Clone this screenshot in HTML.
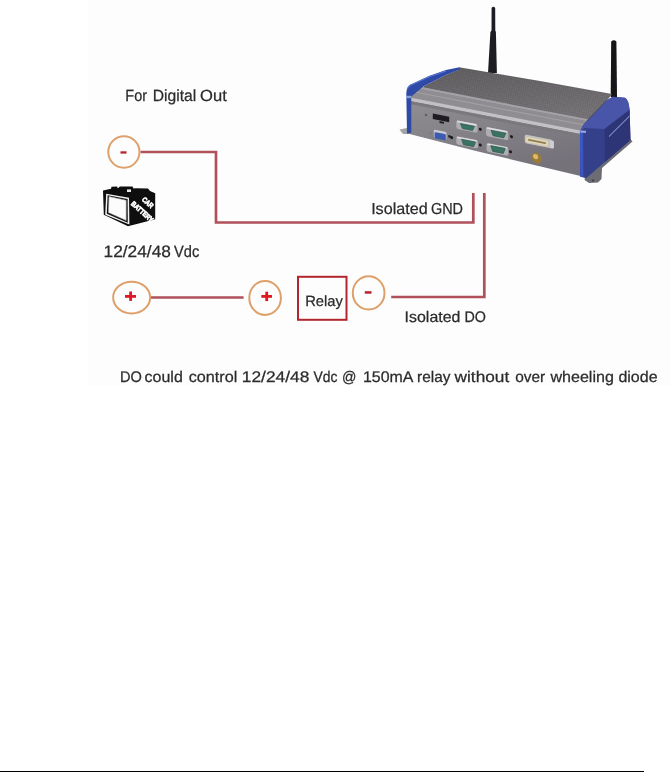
<!DOCTYPE html>
<html>
<head>
<meta charset="utf-8">
<style>
html,body{margin:0;padding:0;background:#fff;width:671px;height:772px;overflow:hidden;}
svg{position:absolute;left:0;top:0;display:block;will-change:transform;}
text{font-family:"Liberation Sans",sans-serif;fill:#2b2b2b;}
</style>
</head>
<body>
<svg width="671" height="772" viewBox="0 0 671 772">
<defs>
  <linearGradient id="gTop" x1="0" y1="0" x2="0.2" y2="1">
    <stop offset="0" stop-color="#5f5c5f"/>
    <stop offset="1" stop-color="#747174"/>
  </linearGradient>
  <linearGradient id="gFront" x1="0" y1="0" x2="0.5" y2="1">
    <stop offset="0" stop-color="#949297"/>
    <stop offset="0.5" stop-color="#858288"/>
    <stop offset="1" stop-color="#75727a"/>
  </linearGradient>
  <pattern id="grain" width="2.2" height="2.2" patternUnits="userSpaceOnUse" patternTransform="rotate(10)">
    <rect x="0" y="0" width="1.1" height="1.1" fill="#000" opacity="0.07"/>
    <rect x="1.1" y="1.1" width="1.1" height="1.1" fill="#fff" opacity="0.05"/>
  </pattern>
  <filter id="soft" x="-5%" y="-5%" width="110%" height="110%"><feGaussianBlur stdDeviation="0.45"/></filter>
</defs>
<rect x="88" y="0" width="583" height="386" fill="#fdfdfd"/>
<!-- DEVICE -->

<g id="device" filter="url(#soft)">
  <!-- antennas -->
  <path d="M491.6,8 Q493.4,5.5 495.2,8 L495.3,30.5 L495.9,32 L496.9,73 L488,73 L490.4,32 L491.5,30.5 Z" fill="#1f1f21"/>
  <path d="M611.2,41.5 Q613.8,38.8 616.4,41.5 L617,97 L610.7,97 Z" fill="#141416"/>
  <!-- flanges -->
  <polygon points="399.5,129.5 407,128 411,134 403,134" fill="#a3a3a6"/>
  <polygon points="585,177.5 630.5,139.2 632.5,141.5 602,168 601.5,179 598,182.5 589,183 584.5,180" fill="#6c6c74"/>
  <circle cx="593" cy="180.5" r="1.2" fill="#444"/>
  <!-- front face base -->
  <polygon points="410,84.31 592,119.61 580.5,176 476,151 407.5,133.5" fill="url(#gFront)"/>
  <!-- top face -->
  <polygon points="423.6,86.3 446,75 459,69.5 459,67.3 540,81 612,94 592,120.51 423.6,87.84" fill="url(#gTop)"/>
  <polygon points="423.6,86.3 446,75 459,69.5 459,67.3 540,81 612,94 592,120.51 423.6,87.84" fill="url(#grain)"/>
  <!-- bands -->
  <polygon points="410,84.81 592,120.11 592,122.31 410,87.01" fill="#a3a1a5"/>
  <polygon points="410,87.01 592,122.31 592,132.71 410,97.41" fill="#8f8d91"/>
  <polygon points="410,90.61 592,125.91 592,126.91 410,91.61" fill="#a4a2a6"/>
  <polygon points="410,97.41 592,132.71 592,136.31 410,101.01" fill="#c2c0c4"/>
  <polygon points="410,101.01 592,136.31 592,139.41 410,104.11" fill="#7a787c"/>
  <!-- left blue cap -->
  <path d="M406.3,93 Q406.6,87 410.2,84.7 L429.6,75.7 L446,70 L459.5,67.2 L459.5,69.6 L446,75 L423.6,86.2 L411.3,96.6 L411.3,132.8 L407,133.5 Z" fill="#2e4aa6"/>
  <path d="M407.2,89 Q408.5,86 411,85 L429.6,76.6 L446,71" fill="none" stroke="#5b7ad6" stroke-width="1.1"/>
  <rect x="406.3" y="95.8" width="5" height="2.4" fill="#9ab8dc" opacity="0.8"/>
  <!-- right blue cap -->
  <path d="M580,132.5 Q581.5,126 586.6,121.3 L606.3,100.7 L612.6,96.8 L625,97.8 Q628.7,100 629.6,109.7 L630.5,140 L586,178.3 L580,176.5 Z" fill="#343f8a"/>
  <path d="M580,132.5 Q581.5,126 586.6,121.3 L606.3,100.7 L612.6,96.8 L625,97.8 Q628.7,100 629.6,109.7 L604.5,129 L584,128 Z" fill="#4a55a8"/>
  <path d="M604.5,129 L629.6,109.7 L630.5,140 L605,162 Z" fill="#2e3677"/>
  <line x1="609" y1="136.5" x2="629.6" y2="116" stroke="#a5b5ee" stroke-width="1"/>
  <path d="M581.5,131 L581.8,176.5" stroke="#3d55c0" stroke-width="3.2"/>
  <path d="M580.5,131.5 L586,131.8" stroke="#b0c0ee" stroke-width="2.2" opacity="0.8"/>
  <path d="M586.6,121.3 L606.3,100.7" stroke="#4b4a55" stroke-width="1.2" opacity="0.6"/>
  <!-- ports, skewed with face -->
    <g transform="translate(411,0) skewY(11) translate(-411,0)">
    <circle cx="426" cy="112.09" r="1.1" fill="#555"/>
    <rect x="432.8" y="109.27" width="16.40" height="5.52" rx="0" fill="#1e1e20"/>
    <rect x="439.5" y="115.47" width="4.50" height="1.93" rx="0" fill="#1e1e20"/>
    <rect x="433.8" y="125.08" width="12.70" height="8.04" rx="1.2" fill="#c9c9d2"/>
    <rect x="434.6" y="127.42" width="11.20" height="6.33" rx="1" fill="#3a5ab0"/>
    <circle cx="430.5" cy="129.72" r="1.2" fill="#7a7a7a"/>
    <circle cx="449.5" cy="129.03" r="1.4" fill="#262626"/>
    <rect x="456.3" y="111.21" width="21.30" height="8.87" rx="2.2" fill="#aeadb1"/>
    <rect x="457.1" y="111.51" width="19.50" height="1.6" rx="0.8" fill="#dedde0"/>
    <path d="M460.4,114.02 L474.5,114.02 L472.5,118.58 L462.4,118.58 Z" fill="#3b7362" stroke="#2a5548" stroke-width="0.6" stroke-linejoin="round"/>
    <rect x="456.3" y="127.21" width="21.70" height="8.39" rx="2.2" fill="#aeadb1"/>
    <rect x="457.1" y="127.51" width="19.90" height="1.6" rx="0.8" fill="#dedde0"/>
    <path d="M461.5,129.40 L475.6,129.40 L473.6,134.47 L463.5,134.47 Z" fill="#3b7362" stroke="#2a5548" stroke-width="0.6" stroke-linejoin="round"/>
    <rect x="486" y="112.15" width="22.40" height="9.25" rx="2.2" fill="#aeadb1"/>
    <rect x="486.8" y="112.44" width="20.60" height="1.6" rx="0.8" fill="#dedde0"/>
    <path d="M491,114.78 L505.8,114.78 L503.8,119.81 L493,119.81 Z" fill="#3b7362" stroke="#2a5548" stroke-width="0.6" stroke-linejoin="round"/>
    <rect x="486.5" y="128.25" width="21.90" height="8.75" rx="2.2" fill="#aeadb1"/>
    <rect x="487.3" y="128.55" width="20.10" height="1.6" rx="0.8" fill="#dedde0"/>
    <path d="M490.7,130.04 L505.3,130.04 L503.3,135.51 L492.7,135.51 Z" fill="#3b7362" stroke="#2a5548" stroke-width="0.6" stroke-linejoin="round"/>
    <circle cx="480.3" cy="115.86" r="1.5" fill="#1c1c1c"/>
    <circle cx="480.3" cy="131.56" r="1.5" fill="#1c1c1c"/>
    <circle cx="511.5" cy="117.10" r="1.5" fill="#1c1c1c"/>
    <circle cx="510.5" cy="132.40" r="1.5" fill="#1c1c1c"/>
    <circle cx="451.6" cy="129.72" r="1.5" fill="#1c1c1c"/>
    <rect x="524.7" y="112.24" width="28.00" height="8.87" rx="2" fill="#c4c2bc"/>
    <rect x="525.9" y="114.41" width="22.00" height="5.23" rx="1.5" fill="#e2d6b2"/>
    <rect x="528" y="116.2" width="18.00" height="1.6" rx="0.8" fill="#8c7c56"/>
    <rect x="550.3" y="113.28" width="3.60" height="7.60" rx="1" fill="#d0d0d4"/>
    <circle cx="536.6" cy="133.73" r="5.2" fill="#9a7a38"/>
    <circle cx="535.6" cy="132.43" r="2.6" fill="#d8bc6c"/>
    </g>
</g>

<!-- WIRES -->
<g fill="none" stroke="#b0505b" stroke-width="2.7" stroke-linejoin="miter">
  <polyline points="140.5,152 216,152 216,222.5 473.3,222.5 473.3,193"/>
  <polyline points="484.3,193 484.3,297 391.2,297"/>
  <line x1="151" y1="297.5" x2="243.6" y2="297.5"/>
</g>

<!-- CIRCLES -->
<g fill="none" stroke="#dea06a" stroke-width="2">
  <ellipse cx="123.9" cy="152" rx="15.6" ry="15.7"/>
  <ellipse cx="131.65" cy="297.6" rx="18.5" ry="15.9"/>
  <ellipse cx="265.1" cy="297.9" rx="15.8" ry="17"/>
  <ellipse cx="368.65" cy="292.9" rx="15.85" ry="16.6"/>
</g>
<g fill="#b8202c">
  <rect x="120.5" y="151.3" width="6" height="2.3"/>
  <rect x="364.8" y="291.2" width="6.7" height="2.5"/>
</g>
<g fill="#e01a22">
  <rect x="125" y="295" width="11" height="2.8"/>
  <rect x="129.2" y="291.5" width="2.8" height="9.4"/>
  <rect x="261.3" y="295" width="10.7" height="2.8"/>
  <rect x="265.3" y="291.7" width="2.8" height="9.4"/>
</g>

<!-- RELAY BOX -->
<rect x="298" y="276.8" width="48.5" height="43" fill="none" stroke="#b3262e" stroke-width="2"/>

<!-- BATTERY -->
<g id="battery">
  <polygon points="103,190.5 111,188.8 111.5,186.8 117,186.6 117.8,188.2 120,186.4 132.5,186.4 133.5,188.6 135.5,188.3 148,188.6 150,191 155.2,193.2 155.2,219.2 128,226.3 103.8,214.8" fill="#0e0e0e"/>
  <polygon points="106.2,193.7 129,197.8 129.4,224.6 105.2,214.8" fill="#f4f4f4"/>
  <polygon points="107.6,195.2 127.6,199 127.8,222.7 106.8,213.8" fill="#111"/>
  <polygon points="109,196.5 126.2,200.3 126.2,220.4 108.4,212.6" fill="#fcfcfc" stroke="#9a9a9a" stroke-width="0.6"/>
  <rect x="127" y="189.4" width="4" height="2.6" fill="#e8e8e8"/>
  <g fill="#fff" stroke="none" font-family="Liberation Sans, sans-serif" font-weight="bold">
    <text x="0" y="0" font-size="7.2" transform="translate(141.5,200.2) rotate(42)" textLength="12.5" lengthAdjust="spacingAndGlyphs" style="fill:#fff;stroke:#fff;stroke-width:0.7">CAR</text>
    <text x="0" y="0" font-size="7.2" transform="translate(130.6,204.4) rotate(42)" textLength="27" lengthAdjust="spacingAndGlyphs" style="fill:#fff;stroke:#fff;stroke-width:0.7">BATTERY</text>
  </g>
</g>

<!-- TEXT -->
<g stroke="#2b2b2b" stroke-width="0.25" text-rendering="geometricPrecision">
<text x="125.30" y="100.8" font-size="16.2" textLength="21.70" lengthAdjust="spacingAndGlyphs">For</text>
<text x="152.70" y="100.8" font-size="16.2" textLength="43.60" lengthAdjust="spacingAndGlyphs">Digital</text>
<text x="200.10" y="100.8" font-size="16.2" textLength="26.70" lengthAdjust="spacingAndGlyphs">Out</text>
<text x="103.50" y="257.2" font-size="16.5" textLength="67.40" lengthAdjust="spacingAndGlyphs">12/24/48</text>
<text x="174.00" y="257.2" font-size="16.5" textLength="25.20" lengthAdjust="spacingAndGlyphs">Vdc</text>
<text x="371.15" y="213.95" font-size="15.9" textLength="56.45" lengthAdjust="spacingAndGlyphs">Isolated</text>
<text x="430.90" y="213.95" font-size="15.9" textLength="32.10" lengthAdjust="spacingAndGlyphs">GND</text>
<text x="404.60" y="322.3" font-size="15.3" textLength="55.80" lengthAdjust="spacingAndGlyphs">Isolated</text>
<text x="464.40" y="322.3" font-size="15.3" textLength="21.50" lengthAdjust="spacingAndGlyphs">DO</text>
<text x="305.20" y="305.5" font-size="14.8" textLength="37.80" lengthAdjust="spacingAndGlyphs">Relay</text>
<text x="120.00" y="381.6" font-size="15.4" textLength="21.90" lengthAdjust="spacingAndGlyphs">DO</text>
<text x="144.60" y="381.6" font-size="15.4" textLength="38.20" lengthAdjust="spacingAndGlyphs">could</text>
<text x="188.70" y="381.6" font-size="15.4" textLength="48.60" lengthAdjust="spacingAndGlyphs">control</text>
<text x="241.80" y="381.6" font-size="15.4" textLength="67.50" lengthAdjust="spacingAndGlyphs">12/24/48</text>
<text x="313.50" y="381.6" font-size="15.4" textLength="24.00" lengthAdjust="spacingAndGlyphs">Vdc</text>
<text x="342.00" y="381.6" font-size="15.4" textLength="14.40" lengthAdjust="spacingAndGlyphs">@</text>
<text x="363.00" y="381.6" font-size="15.4" textLength="50.50" lengthAdjust="spacingAndGlyphs">150mA</text>
<text x="417.10" y="381.6" font-size="15.4" textLength="33.30" lengthAdjust="spacingAndGlyphs">relay</text>
<text x="454.60" y="381.6" font-size="15.4" textLength="54.60" lengthAdjust="spacingAndGlyphs">without</text>
<text x="515.20" y="381.6" font-size="15.4" textLength="30.00" lengthAdjust="spacingAndGlyphs">over</text>
<text x="550.40" y="381.6" font-size="15.4" textLength="63.50" lengthAdjust="spacingAndGlyphs">wheeling</text>
<text x="618.40" y="381.6" font-size="15.4" textLength="39.20" lengthAdjust="spacingAndGlyphs">diode</text>
</g>
<!-- FOOTER LINE -->
<rect x="0" y="771" width="644" height="1" fill="#000"/>
</svg>
</body>
</html>
